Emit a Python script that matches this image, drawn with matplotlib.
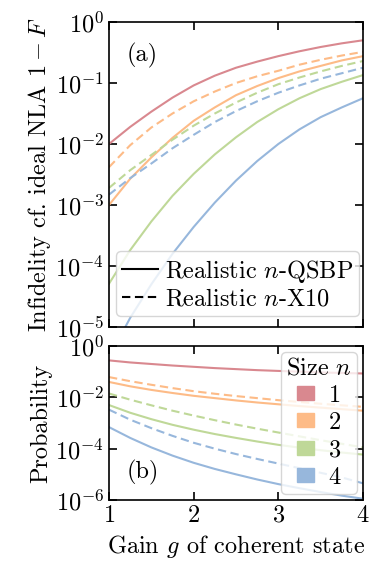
import numpy as np
import matplotlib
matplotlib.use("Agg")
import matplotlib.pyplot as plt
from matplotlib.lines import Line2D
from matplotlib.patches import Patch

plt.rcParams.update({
    "font.family": "serif",
    "font.serif": ["cmr10"],
    "mathtext.fontset": "cm",
    "axes.formatter.use_mathtext": True,
    "font.size": 17.5,
    "axes.linewidth": 1.2,
    "xtick.direction": "in",
    "ytick.direction": "in",
    "xtick.top": True,
    "ytick.right": True,
    "xtick.major.width": 1.2,
    "ytick.major.width": 1.2,
    "xtick.major.size": 6,
    "ytick.major.size": 6,
})

# gain values where the curves were read
gain = [1.0, 1.25, 1.5, 1.75, 2.0, 2.25, 2.5, 2.75, 3.0, 3.25, 3.5, 3.75, 4.0]
sizes = ["1", "2", "3", "4"]
colors = ["#d9888f", "#fdbb87", "#bfd898", "#97b7dc"]

# (a) infidelity 1 - F, read as log10 values
log_infid_qsbp = [
    [-2.00, -1.72, -1.47, -1.24, -1.04, -0.88, -0.75, -0.65, -0.56, -0.48, -0.41, -0.35, -0.30],
    [-3.00, -2.57, -2.22, -1.90, -1.62, -1.40, -1.20, -1.05, -0.92, -0.81, -0.72, -0.63, -0.56],
    [-4.29, -3.74, -3.27, -2.85, -2.49, -2.17, -1.89, -1.64, -1.43, -1.25, -1.10, -0.98, -0.87],
    [-5.50, -4.85, -4.30, -3.80, -3.36, -2.96, -2.60, -2.28, -2.00, -1.76, -1.56, -1.40, -1.25],
]
log_infid_x10 = [
    None,
    [-2.38, -2.02, -1.73, -1.50, -1.30, -1.14, -1.00, -0.89, -0.80, -0.70, -0.62, -0.55, -0.49],
    [-2.72, -2.43, -2.18, -1.93, -1.70, -1.50, -1.32, -1.16, -1.02, -0.91, -0.81, -0.72, -0.64],
    [-2.83, -2.56, -2.32, -2.07, -1.85, -1.64, -1.46, -1.30, -1.16, -1.04, -0.93, -0.84, -0.75],
]

# (b) success probability, read as log10 values
log_prob_qsbp = [
    [-0.56, -0.64, -0.70, -0.76, -0.81, -0.86, -0.90, -0.94, -0.97, -1.00, -1.03, -1.05, -1.07],
    [-1.40, -1.57, -1.71, -1.83, -1.94, -2.03, -2.12, -2.20, -2.27, -2.34, -2.40, -2.46, -2.52],
    [-2.30, -2.60, -2.85, -3.07, -3.26, -3.43, -3.58, -3.72, -3.85, -3.96, -4.06, -4.15, -4.23],
    [-3.16, -3.58, -3.95, -4.27, -4.55, -4.79, -5.00, -5.20, -5.38, -5.54, -5.69, -5.83, -5.95],
]
log_prob_x10 = [
    None,
    [-1.21, -1.37, -1.51, -1.64, -1.76, -1.86, -1.95, -2.03, -2.11, -2.18, -2.25, -2.31, -2.37],
    [-1.85, -2.09, -2.31, -2.52, -2.71, -2.89, -3.06, -3.22, -3.37, -3.52, -3.67, -3.81, -3.95],
    [-2.48, -2.87, -3.20, -3.50, -3.77, -4.00, -4.21, -4.40, -4.58, -4.76, -4.94, -5.12, -5.35],
]

dash = (4.0, 2.2)

fig = plt.figure(figsize=(3.7, 5.62), dpi=100)
ax1 = fig.add_axes([0.2946, 0.4181, 0.6865, 0.5428])
ax2 = fig.add_axes([0.2946, 0.1103, 0.6865, 0.2740])

for i in range(4):
    ax1.plot(gain, 10 ** np.array(log_infid_qsbp[i]), color=colors[i], lw=1.5)
    ax2.plot(gain, 10 ** np.array(log_prob_qsbp[i]), color=colors[i], lw=1.5)
    if log_infid_x10[i] is not None:
        ax1.plot(gain, 10 ** np.array(log_infid_x10[i]), color=colors[i], lw=1.5,
                 ls="--", dashes=dash)
        ax2.plot(gain, 10 ** np.array(log_prob_x10[i]), color=colors[i], lw=1.5,
                 ls="--", dashes=dash)

ax1.set_yscale("log")
ax1.set_ylim(1e-5, 1)
ax1.set_yticks([1e0, 1e-1, 1e-2, 1e-3, 1e-4, 1e-5])
ax1.yaxis.set_minor_locator(matplotlib.ticker.NullLocator())
ax1.set_xlim(1, 4)
ax1.set_xticks([1, 2, 3, 4])
ax1.set_xticklabels([])
ax1.set_ylabel(r"Infidelity cf. ideal NLA $1-F$", labelpad=2)
ax1.text(0.07, 0.93, "(a)", transform=ax1.transAxes, va="top", ha="left")

style_handles = [Line2D([], [], color="k", lw=1.5, ls="-"),
                 Line2D([], [], color="k", lw=1.5, ls="--", dashes=dash)]
ax1.legend(style_handles, [r"Realistic $n$-QSBP", r"Realistic $n$-X10"],
           loc="lower right", bbox_to_anchor=(0.985, 0.035),
           handlelength=1.45, handletextpad=0.3,
           borderpad=0.25, labelspacing=0.15, borderaxespad=0.0)

ax2.set_yscale("log")
ax2.set_ylim(1e-6, 1)
ax2.set_yticks([1e0, 1e-2, 1e-4, 1e-6])
ax2.yaxis.set_minor_locator(matplotlib.ticker.NullLocator())
ax2.set_xlim(1, 4)
ax2.set_xticks([1, 2, 3, 4])
ax2.set_ylabel("Probability", labelpad=2)
ax2.set_xlabel(r"Gain $g$ of coherent state")
ax2.text(0.07, 0.1, "(b)", transform=ax2.transAxes, va="bottom", ha="left")

size_handles = [Patch(color=c) for c in colors]
ax2.legend(size_handles, sizes, title=r"Size $n$", loc="upper right",
           handlelength=0.7, handleheight=0.5, handletextpad=0.6,
           borderpad=0.2, labelspacing=0.22, borderaxespad=0.25)

fig.savefig("out.png", dpi=100)
